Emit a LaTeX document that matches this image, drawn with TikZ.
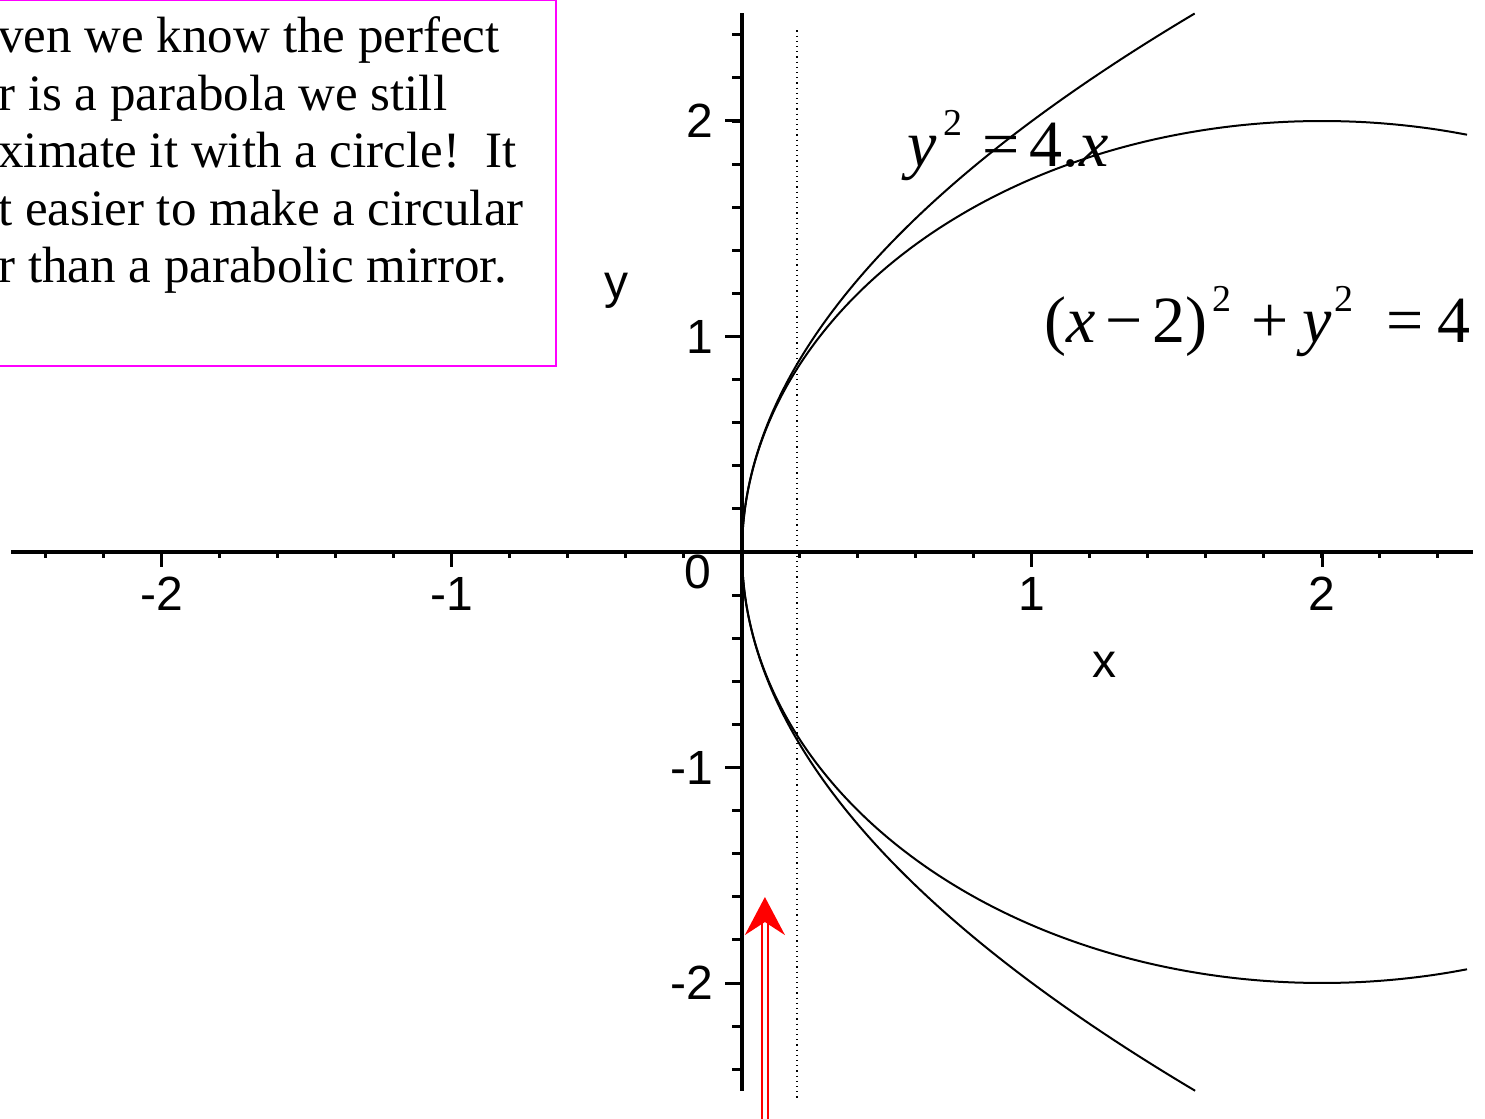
\documentclass[tikz,border=0pt]{standalone}
\usepackage{fontspec}
\setmainfont{Liberation Serif}
\newfontfamily\plotfont{Liberation Sans}
\usetikzlibrary{arrows.meta}
\definecolor{notemagenta}{RGB}{255,0,255}

\begin{document}
\begin{tikzpicture}[
  x=145pt, y=107.75pt,
  axisline/.style={line width=2pt},
  tickmark/.style={line width=1.5pt},
  curve/.style={line width=1pt},
  ticklabel/.style={inner sep=0pt, font=\plotfont\fontsize{24}{24}\selectfont},
  notetext/.style={anchor=base west, inner sep=0pt, font=\fontsize{25.5}{25.5}\selectfont},
  eqlabel/.style={anchor=base west, inner sep=0pt, font=\fontsize{33}{33}\selectfont},
  ray/.style={draw=red, line width=1.1pt, double=white, double distance=1.6pt, -{Stealth[length=19pt, width=20pt, inset=6.5pt]}}
  ]
  \useasboundingbox (-371pt,-283.5pt) rectangle (371.5pt,276pt);
  \clip (-371pt,-283.5pt) rectangle (371.5pt,276pt);

  % ========== note box ==========
  \draw[notemagenta, line width=1pt] (-380pt,93pt) rectangle (-93pt,276pt);
  \foreach \txt [count=\i] in {ven we know the perfect, r is a parabola we still, ximate it with a circle!\ \ It, t easier to make a circular, r than a parabolic mirror.}
    \node[notetext] (note\i) at (-372pt,{278.25pt-28.75pt*\i}) {\txt};

  % ========== axes ==========
  \draw[axisline] (-2.52,0) -- (2.52,0);
  \draw[axisline] (0,-2.5) -- (0,2.5);
  \foreach \t in {-2.4,-2.2,...,2.45} {
    \draw[tickmark] (\t,0) -- ++(0pt,-3pt);
    \draw[tickmark] (0,\t) -- ++(-5pt,0pt);
  }
  \foreach \t in {-2,-1,1,2} {
    \draw[tickmark] (\t,0) -- ++(0pt,-7.5pt);
    \draw[tickmark] (0,\t) -- ++(-8.5pt,0pt);
    \node[ticklabel, anchor=north] (xlab\t) at ([yshift=-12.5pt]\t,0) {\t};
    \node[ticklabel, anchor=east] (ylab\t) at ([xshift=-14pt]0,\t) {\t};
  }
  \node[ticklabel, anchor=north east] (zerolab) at ([xshift=-15pt,yshift=-1.5pt]0,0) {0};
  \node[ticklabel] (xname) at (1.249,-0.524) {x};
  \node[ticklabel] (yname) at (-0.4325,1.213) {y};

  % ========== labels ==========
  \node[eqlabel] (parabolaeq) at (0.571,1.787)
    {\textit{y}\hspace{0.1em}\raisebox{0.48em}{\fontsize{19}{19}\selectfont 2}\hspace{0.3em}=\hspace{0.15em}4.\textit{x}};
  \node[eqlabel] (circleeq) at (1.0415,0.970)
    {(\textit{x}\hspace{0.15em}−\hspace{0.15em}2)\hspace{0.08em}\raisebox{0.48em}{\fontsize{19}{19}\selectfont 2}\hspace{0.3em}+\hspace{0.2em}\textit{y}\hspace{0.05em}\raisebox{0.48em}{\fontsize{19}{19}\selectfont 2}\hspace{0.5em}=\hspace{0.2em}4};

  % ========== curves ==========
  \draw[curve] plot[domain=-2.5:2.5, samples=101, smooth] ({\x*\x/4},\x);
  \draw[curve] plot[domain=75.52:284.48, samples=121, smooth] ({2+2*cos(\x)},{2*sin(\x)});
  \draw[dotted, line width=0.6pt] (0.19,2.42) -- (0.19,-2.55);

  % ========== incoming ray ==========
  \coordinate (raytail) at (0.079,-2.7);
  \coordinate (raytip) at (0.079,-1.601);
  \draw[ray] (raytail) -- (raytip);
\end{tikzpicture}
\end{document}
